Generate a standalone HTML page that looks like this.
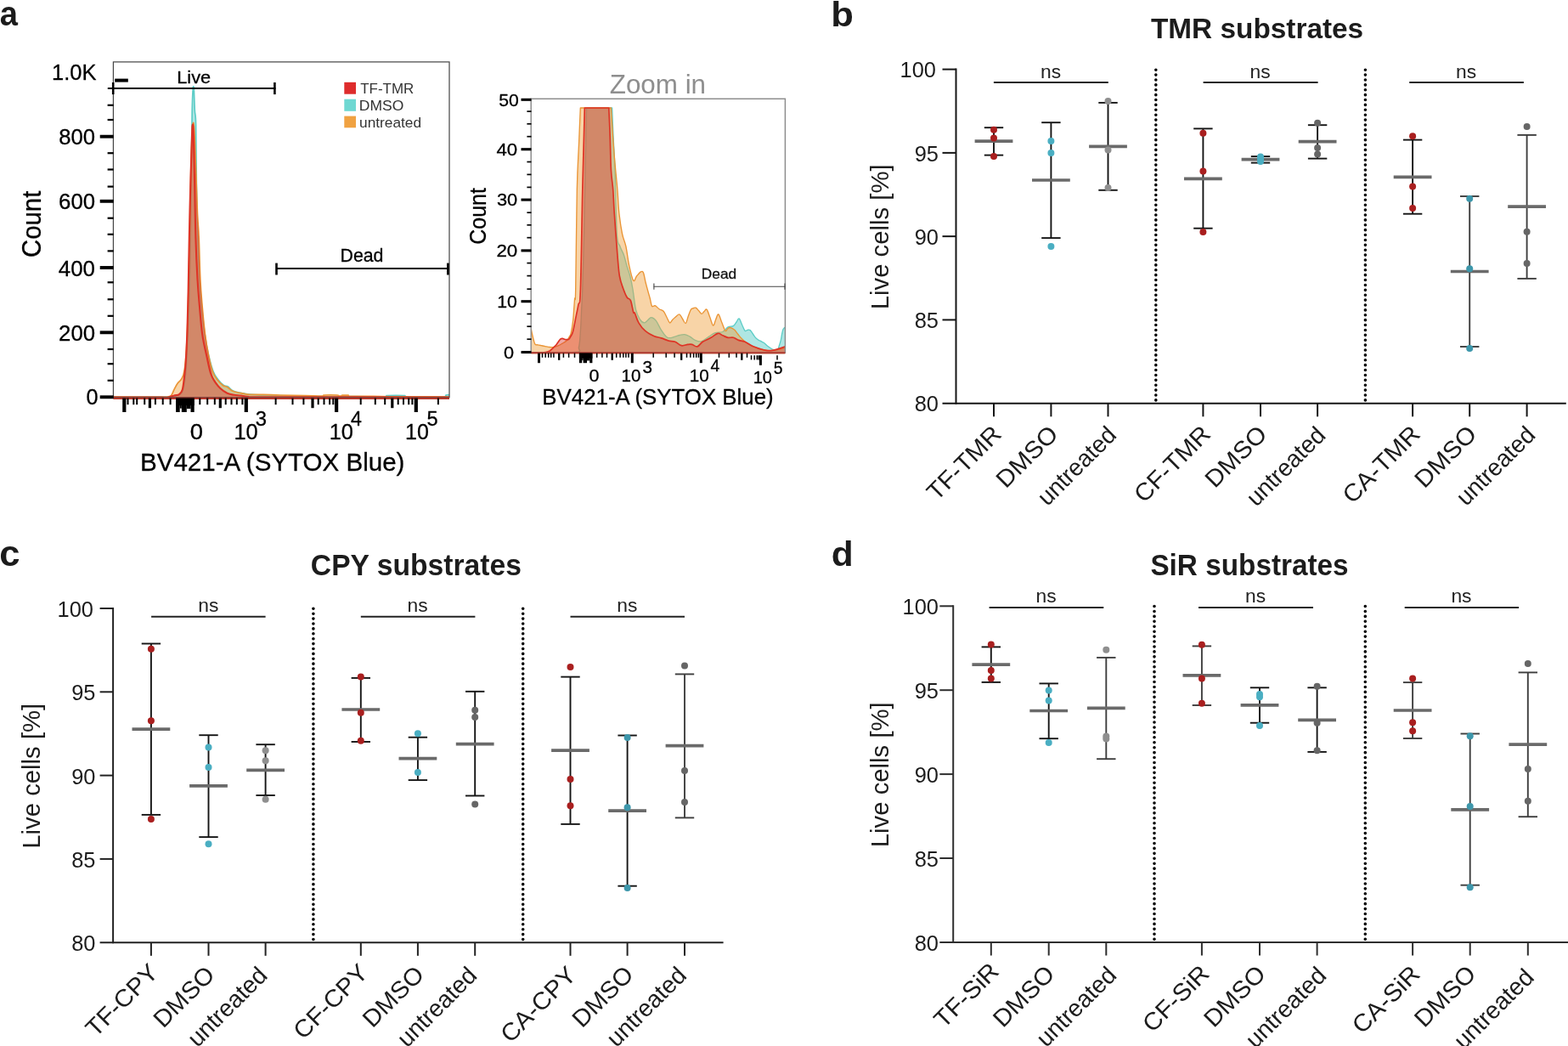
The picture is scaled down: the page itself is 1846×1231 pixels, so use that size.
<!DOCTYPE html>
<html lang="en"><head><meta charset="utf-8"><title>Live cell viability figure</title>
<style>
html,body{margin:0;padding:0;background:#fff;}
body{width:1846px;height:1231px;overflow:hidden;}
svg{display:block;font-family:"Liberation Sans",sans-serif;}
</style></head><body>
<svg width="1846" height="1231" viewBox="0 0 1846 1231" role="img" aria-label="Live cell viability: flow cytometry histograms and live cell percentages for TMR, CPY and SiR substrates">
<rect x="0" y="0" width="1846" height="1231" fill="#ffffff"/>
<text transform="translate(-0.24 30.29) scale(0.920 1)" font-size="41.45" font-weight="bold" fill="#1c1c1c">a</text>
<text transform="translate(978.17 30.5) scale(1.089 1)" font-size="40" font-weight="bold" fill="#1c1c1c">b</text>
<text transform="translate(-0.85 666.18) scale(1.036 1)" font-size="42.18" font-weight="bold" fill="#1c1c1c">c</text>
<text transform="translate(978.8 666.19) scale(1.031 1)" font-size="41.09" font-weight="bold" fill="#1c1c1c">d</text>
<path d="M133.3,467 C133.3,467 186.91,467.27 200,467 C213.09,466.73 203.48,466.4 206,465.5 C208.52,464.6 211.75,466.59 214,462 C216.25,457.41 217.24,452.42 218.5,440 C219.76,427.58 220.23,410.1 221,393 C221.77,375.9 222.21,365.34 222.8,345 C223.39,324.66 223.87,306.1 224.3,280 C224.73,253.9 224.86,227 225.2,200 C225.54,173 225.84,147.19 226.2,130 C226.56,112.81 226.93,109.32 227.2,104.5 C227.47,99.68 227.5,103.2 227.7,103.2 C227.9,103.2 228.01,99.68 228.3,104.5 C228.59,109.32 228.89,122.42 229.3,130 C229.71,137.58 230.22,130.4 230.6,146.6 C230.98,162.8 230.97,195.99 231.4,220 C231.83,244.01 232.35,260.43 233,280 C233.65,299.57 234.17,314.08 235,328.7 C235.83,343.32 236.48,349.5 237.6,361.2 C238.72,372.9 239.76,383.48 241.2,393.7 C242.64,403.92 243.84,410.21 245.6,418 C247.36,425.79 248.95,431.78 251,437 C253.05,442.22 254.77,444.05 257,447 C259.23,449.95 261.35,451.96 263.4,453.4 C265.45,454.84 266.42,453.81 268.4,455 C270.38,456.19 271.52,458.65 274.4,460 C277.28,461.35 280.98,461.76 284.4,462.5 C287.82,463.24 288.79,463.61 293.4,464.1 C298.01,464.59 301.61,464.86 310,465.2 C318.39,465.54 327.4,465.77 340,466 C352.6,466.23 365.6,466.37 380,466.5 C394.4,466.63 406.68,466.65 420,466.7 C433.32,466.75 447.52,467 454,466.8 C460.48,466.6 452.04,465.82 456,465.6 C459.96,465.38 472.04,465.38 476,465.6 C479.96,465.82 470.08,466.55 478,466.8 C485.92,467.05 511.54,467.32 520,467 C528.46,466.68 523.38,465.45 525,465 C526.62,464.55 529,464.5 529,464.5 L529,468.6 L133.3,468.6 Z" fill="rgba(95,205,200,0.50)" stroke="none"/>
<path d="M133.3,467 C133.3,467 186.91,467.27 200,467 C213.09,466.73 203.48,466.4 206,465.5 C208.52,464.6 211.75,466.59 214,462 C216.25,457.41 217.24,452.42 218.5,440 C219.76,427.58 220.23,410.1 221,393 C221.77,375.9 222.21,365.34 222.8,345 C223.39,324.66 223.87,306.1 224.3,280 C224.73,253.9 224.86,227 225.2,200 C225.54,173 225.84,147.19 226.2,130 C226.56,112.81 226.93,109.32 227.2,104.5 C227.47,99.68 227.5,103.2 227.7,103.2 C227.9,103.2 228.01,99.68 228.3,104.5 C228.59,109.32 228.89,122.42 229.3,130 C229.71,137.58 230.22,130.4 230.6,146.6 C230.98,162.8 230.97,195.99 231.4,220 C231.83,244.01 232.35,260.43 233,280 C233.65,299.57 234.17,314.08 235,328.7 C235.83,343.32 236.48,349.5 237.6,361.2 C238.72,372.9 239.76,383.48 241.2,393.7 C242.64,403.92 243.84,410.21 245.6,418 C247.36,425.79 248.95,431.78 251,437 C253.05,442.22 254.77,444.05 257,447 C259.23,449.95 261.35,451.96 263.4,453.4 C265.45,454.84 266.42,453.81 268.4,455 C270.38,456.19 271.52,458.65 274.4,460 C277.28,461.35 280.98,461.76 284.4,462.5 C287.82,463.24 288.79,463.61 293.4,464.1 C298.01,464.59 301.61,464.86 310,465.2 C318.39,465.54 327.4,465.77 340,466 C352.6,466.23 365.6,466.37 380,466.5 C394.4,466.63 406.68,466.65 420,466.7 C433.32,466.75 447.52,467 454,466.8 C460.48,466.6 452.04,465.82 456,465.6 C459.96,465.38 472.04,465.38 476,465.6 C479.96,465.82 470.08,466.55 478,466.8 C485.92,467.05 511.54,467.32 520,467 C528.46,466.68 523.38,465.45 525,465 C526.62,464.55 529,464.5 529,464.5" fill="none" stroke="#5ecdc7" stroke-width="1.7" stroke-linejoin="round"/>
<path d="M133.3,467 C133.3,467 183.35,467.44 195,467.4 C206.65,467.36 196.79,467.2 198,466.8 C199.21,466.4 200.46,466.66 201.7,465.2 C202.94,463.74 203.59,461.2 204.9,458.7 C206.21,456.2 207.38,453.64 209,451.3 C210.62,448.96 212.44,448.47 213.9,445.7 C215.36,442.93 216.09,442.33 217.1,435.9 C218.11,429.47 218.71,423.66 219.5,410 C220.29,396.34 220.82,383.4 221.5,360 C222.18,336.6 222.71,308.8 223.3,280 C223.89,251.2 224.22,223.04 224.8,200 C225.38,176.96 225.83,161 226.5,152 C227.17,143 227.76,141.36 228.5,150 C229.24,158.64 229.9,182 230.6,200 C231.3,218 231.75,235.6 232.4,250 C233.05,264.4 233.59,265.83 234.2,280 C234.81,294.17 235.08,314.08 235.8,328.7 C236.52,343.32 237.17,349.5 238.2,361.2 C239.23,372.9 240.19,383.48 241.5,393.7 C242.81,403.92 243.9,410.12 245.5,418 C247.1,425.88 248.49,432.23 250.4,437.5 C252.31,442.77 253.9,444.37 256.1,447.3 C258.3,450.23 260.55,452.34 262.6,453.8 C264.65,455.26 265.45,454.23 267.5,455.4 C269.55,456.57 271.08,458.99 274,460.3 C276.92,461.61 280.21,461.98 283.7,462.7 C287.19,463.42 288.67,464.01 293.4,464.3 C298.13,464.59 303.41,464.17 310,464.3 C316.59,464.43 321,464.77 330,465 C339,465.23 351,465.42 360,465.6 C369,465.78 376.13,466.11 380,466 C383.87,465.89 378.44,465.18 381.5,465 C384.56,464.82 393.94,464.82 397,465 C400.06,465.18 397.6,465.82 398.5,466 C399.4,466.18 401.19,466.14 402,466 C402.81,465.86 401.56,465.34 403,465.2 C404.44,465.06 408.56,465.06 410,465.2 C411.44,465.34 405.6,465.78 411,466 C416.4,466.22 429.38,466.26 440,466.4 C450.62,466.54 453.98,466.69 470,466.8 C486.02,466.91 529,467 529,467 L529,468.6 L133.3,468.6 Z" fill="rgba(240,160,60,0.45)" stroke="none"/>
<path d="M133.3,467 C133.3,467 183.35,467.44 195,467.4 C206.65,467.36 196.79,467.2 198,466.8 C199.21,466.4 200.46,466.66 201.7,465.2 C202.94,463.74 203.59,461.2 204.9,458.7 C206.21,456.2 207.38,453.64 209,451.3 C210.62,448.96 212.44,448.47 213.9,445.7 C215.36,442.93 216.09,442.33 217.1,435.9 C218.11,429.47 218.71,423.66 219.5,410 C220.29,396.34 220.82,383.4 221.5,360 C222.18,336.6 222.71,308.8 223.3,280 C223.89,251.2 224.22,223.04 224.8,200 C225.38,176.96 225.83,161 226.5,152 C227.17,143 227.76,141.36 228.5,150 C229.24,158.64 229.9,182 230.6,200 C231.3,218 231.75,235.6 232.4,250 C233.05,264.4 233.59,265.83 234.2,280 C234.81,294.17 235.08,314.08 235.8,328.7 C236.52,343.32 237.17,349.5 238.2,361.2 C239.23,372.9 240.19,383.48 241.5,393.7 C242.81,403.92 243.9,410.12 245.5,418 C247.1,425.88 248.49,432.23 250.4,437.5 C252.31,442.77 253.9,444.37 256.1,447.3 C258.3,450.23 260.55,452.34 262.6,453.8 C264.65,455.26 265.45,454.23 267.5,455.4 C269.55,456.57 271.08,458.99 274,460.3 C276.92,461.61 280.21,461.98 283.7,462.7 C287.19,463.42 288.67,464.01 293.4,464.3 C298.13,464.59 303.41,464.17 310,464.3 C316.59,464.43 321,464.77 330,465 C339,465.23 351,465.42 360,465.6 C369,465.78 376.13,466.11 380,466 C383.87,465.89 378.44,465.18 381.5,465 C384.56,464.82 393.94,464.82 397,465 C400.06,465.18 397.6,465.82 398.5,466 C399.4,466.18 401.19,466.14 402,466 C402.81,465.86 401.56,465.34 403,465.2 C404.44,465.06 408.56,465.06 410,465.2 C411.44,465.34 405.6,465.78 411,466 C416.4,466.22 429.38,466.26 440,466.4 C450.62,466.54 453.98,466.69 470,466.8 C486.02,466.91 529,467 529,467" fill="none" stroke="#ea9536" stroke-width="1.7" stroke-linejoin="round"/>
<path d="M133.3,467.6 C133.3,467.6 179,467.53 190,467.6 C201,467.67 192.74,468.07 194.4,468 C196.06,467.93 197.17,467.7 199.2,467.2 C201.23,466.7 203.65,465.72 205.7,465.2 C207.75,464.68 208.98,465.47 210.6,464.3 C212.22,463.13 213.53,462.64 214.7,458.7 C215.87,454.76 216.38,448.25 217.1,442.4 C217.82,436.55 218.12,434.97 218.7,426.2 C219.28,417.43 219.78,408.32 220.3,393.7 C220.82,379.08 221.15,365.47 221.6,345 C222.05,324.53 222.33,302.5 222.8,280 C223.27,257.5 223.62,241.6 224.2,220 C224.78,198.4 225.53,173.21 226,160 C226.47,146.79 226.35,148.4 226.8,146.6 C227.25,144.8 227.82,140.39 228.5,150 C229.18,159.61 229.9,182 230.6,200 C231.3,218 231.75,235.6 232.4,250 C233.05,264.4 233.59,265.83 234.2,280 C234.81,294.17 235.08,314.08 235.8,328.7 C236.52,343.32 237.17,349.5 238.2,361.2 C239.23,372.9 240.19,383.48 241.5,393.7 C242.81,403.92 244.04,409.94 245.5,418 C246.96,426.06 248.29,432.94 249.6,438.5 C250.91,444.06 251.05,445.57 252.8,448.9 C254.55,452.23 256.65,454.52 259.3,457 C261.95,459.48 264.57,461.3 267.5,462.7 C270.43,464.1 272.68,464.3 275.6,464.8 C278.52,465.3 280.78,465.14 283.7,465.5 C286.62,465.86 287.07,466.49 291.8,466.8 C296.53,467.11 267.3,467.06 310,467.2 C352.7,467.34 529,467.6 529,467.6 L529,468.6 L133.3,468.6 Z" fill="rgba(220,50,40,0.42)" stroke="none"/>
<path d="M133.3,467.6 C133.3,467.6 179,467.53 190,467.6 C201,467.67 192.74,468.07 194.4,468 C196.06,467.93 197.17,467.7 199.2,467.2 C201.23,466.7 203.65,465.72 205.7,465.2 C207.75,464.68 208.98,465.47 210.6,464.3 C212.22,463.13 213.53,462.64 214.7,458.7 C215.87,454.76 216.38,448.25 217.1,442.4 C217.82,436.55 218.12,434.97 218.7,426.2 C219.28,417.43 219.78,408.32 220.3,393.7 C220.82,379.08 221.15,365.47 221.6,345 C222.05,324.53 222.33,302.5 222.8,280 C223.27,257.5 223.62,241.6 224.2,220 C224.78,198.4 225.53,173.21 226,160 C226.47,146.79 226.48,146.6 226.8,146.6 C227.12,146.6 227.37,146.79 227.8,160 C228.23,173.21 228.73,198.4 229.2,220 C229.67,241.6 229.81,260.43 230.4,280 C230.99,299.57 231.67,314.08 232.5,328.7 C233.33,343.32 233.97,349.5 235,361.2 C236.03,372.9 236.74,383.48 238.2,393.7 C239.66,403.92 241.34,409.81 243.1,418 C244.86,426.19 246.25,433.64 248,439.2 C249.75,444.76 250.77,445.7 252.8,448.9 C254.83,452.1 256.65,454.52 259.3,457 C261.95,459.48 264.57,461.3 267.5,462.7 C270.43,464.1 272.68,464.3 275.6,464.8 C278.52,465.3 280.78,465.14 283.7,465.5 C286.62,465.86 287.07,466.49 291.8,466.8 C296.53,467.11 267.3,467.06 310,467.2 C352.7,467.34 529,467.6 529,467.6" fill="none" stroke="#de3325" stroke-width="2.12" stroke-linejoin="round"/>
<rect x="133.4" y="72.9" width="395.6" height="394.7" fill="none" stroke="#444" stroke-width="1.2"/>
<line x1="133.4" y1="468.7" x2="529" y2="468.7" stroke="#b5382c" stroke-width="2.4"/>
<line x1="117.7" y1="467.3" x2="133.7" y2="467.3" stroke="#000" stroke-width="3.9"/>
<line x1="126.6" y1="447.8" x2="133.7" y2="447.8" stroke="#000" stroke-width="2.2"/>
<line x1="126.6" y1="428.2" x2="133.7" y2="428.2" stroke="#000" stroke-width="2.2"/>
<line x1="126.6" y1="411" x2="133.7" y2="411" stroke="#000" stroke-width="2.2"/>
<line x1="117.7" y1="391.3" x2="133.7" y2="391.3" stroke="#000" stroke-width="3.9"/>
<line x1="126.6" y1="371.8" x2="133.7" y2="371.8" stroke="#000" stroke-width="2.2"/>
<line x1="126.6" y1="352.3" x2="133.7" y2="352.3" stroke="#000" stroke-width="2.2"/>
<line x1="126.6" y1="332.3" x2="133.7" y2="332.3" stroke="#000" stroke-width="2.2"/>
<line x1="117.7" y1="315" x2="133.7" y2="315" stroke="#000" stroke-width="3.9"/>
<line x1="126.6" y1="295.4" x2="133.7" y2="295.4" stroke="#000" stroke-width="2.2"/>
<line x1="126.6" y1="275.8" x2="133.7" y2="275.8" stroke="#000" stroke-width="2.2"/>
<line x1="126.6" y1="256.7" x2="133.7" y2="256.7" stroke="#000" stroke-width="2.2"/>
<line x1="117.7" y1="236.8" x2="133.7" y2="236.8" stroke="#000" stroke-width="3.9"/>
<line x1="126.6" y1="219.6" x2="133.7" y2="219.6" stroke="#000" stroke-width="2.2"/>
<line x1="126.6" y1="199.5" x2="133.7" y2="199.5" stroke="#000" stroke-width="2.2"/>
<line x1="126.6" y1="180.2" x2="133.7" y2="180.2" stroke="#000" stroke-width="2.2"/>
<line x1="117.7" y1="160.7" x2="133.7" y2="160.7" stroke="#000" stroke-width="3.9"/>
<line x1="126.6" y1="141" x2="133.7" y2="141" stroke="#000" stroke-width="2.2"/>
<line x1="126.6" y1="123.8" x2="133.7" y2="123.8" stroke="#000" stroke-width="2.2"/>
<text transform="translate(60.99 94.02) scale(0.969 1)" font-size="26.3" fill="#000" stroke="#000" stroke-width="0.3" stroke-linejoin="round">1.0K</text>
<text transform="translate(69.25 170.02) scale(0.975 1)" font-size="26.3" fill="#000" stroke="#000" stroke-width="0.3" stroke-linejoin="round">800</text>
<text transform="translate(69.11 246.22) scale(0.978 1)" font-size="26.3" fill="#000" stroke="#000" stroke-width="0.3" stroke-linejoin="round">600</text>
<text transform="translate(68.85 325.12) scale(0.984 1)" font-size="26.3" fill="#000" stroke="#000" stroke-width="0.3" stroke-linejoin="round">400</text>
<text transform="translate(69.11 401.22) scale(0.978 1)" font-size="26.3" fill="#000" stroke="#000" stroke-width="0.3" stroke-linejoin="round">200</text>
<text transform="translate(101.39 475.97) scale(0.961 1)" font-size="26.3" fill="#000" stroke="#000" stroke-width="0.3" stroke-linejoin="round">0</text>
<text transform="translate(47.68 302.97) rotate(-90) scale(0.926 1)" font-size="31.69" fill="#000" stroke="#000" stroke-width="0.3" stroke-linejoin="round">Count</text>
<rect x="135.2" y="92.6" width="15.6" height="4" fill="#000"/>
<line x1="126.8" y1="104" x2="324.4" y2="104" stroke="#000" stroke-width="2.2"/>
<line x1="133.2" y1="97" x2="133.2" y2="111.1" stroke="#000" stroke-width="2.6"/>
<line x1="323.4" y1="97" x2="323.4" y2="111.1" stroke="#000" stroke-width="2.6"/>
<text transform="translate(208.15 98.49) scale(1.055 1)" font-size="20.68" fill="#000" stroke="#000" stroke-width="0.3" stroke-linejoin="round">Live</text>
<line x1="325" y1="316" x2="528" y2="316" stroke="#000" stroke-width="2.2"/>
<line x1="325.5" y1="309.6" x2="325.5" y2="323.5" stroke="#000" stroke-width="2.6"/>
<line x1="527.4" y1="309.6" x2="527.4" y2="323.5" stroke="#000" stroke-width="2.8"/>
<text transform="translate(400.49 308.39) scale(1.005 1)" font-size="21.22" fill="#000" stroke="#000" stroke-width="0.3" stroke-linejoin="round">Dead</text>
<rect x="405.3" y="96.8" width="13.7" height="13.9" fill="#de2c2c"/>
<rect x="405.3" y="116.7" width="13.7" height="14.1" fill="#6fd8d2"/>
<rect x="405.3" y="136.6" width="13.7" height="13.7" fill="#f0a242"/>
<text transform="translate(424.26 109.7) scale(0.973 1)" font-size="17.4" fill="#333">TF-TMR</text>
<text transform="translate(422.8 129.55) scale(1.005 1)" font-size="17.4" fill="#333">DMSO</text>
<text transform="translate(423.08 149.67) scale(0.994 1)" font-size="17.4" fill="#333">untreated</text>
<line x1="150.5" y1="468.6" x2="150.5" y2="476.2" stroke="#000" stroke-width="2"/>
<line x1="157.3" y1="468.6" x2="157.3" y2="476.2" stroke="#000" stroke-width="2"/>
<line x1="161.2" y1="468.6" x2="161.2" y2="476.2" stroke="#000" stroke-width="2"/>
<line x1="170.2" y1="468.6" x2="170.2" y2="476.2" stroke="#000" stroke-width="2"/>
<line x1="182.9" y1="468.6" x2="182.9" y2="476.2" stroke="#000" stroke-width="2"/>
<line x1="191.7" y1="468.6" x2="191.7" y2="476.2" stroke="#000" stroke-width="2"/>
<line x1="200.6" y1="468.6" x2="200.6" y2="476.2" stroke="#000" stroke-width="2"/>
<line x1="235.3" y1="468.6" x2="235.3" y2="476.2" stroke="#000" stroke-width="2"/>
<line x1="244.2" y1="468.6" x2="244.2" y2="476.2" stroke="#000" stroke-width="2"/>
<line x1="252.8" y1="468.6" x2="252.8" y2="476.2" stroke="#000" stroke-width="2"/>
<line x1="265.7" y1="468.6" x2="265.7" y2="476.2" stroke="#000" stroke-width="2"/>
<line x1="272.5" y1="468.6" x2="272.5" y2="476.2" stroke="#000" stroke-width="2"/>
<line x1="278.8" y1="468.6" x2="278.8" y2="476.2" stroke="#000" stroke-width="2"/>
<line x1="285.4" y1="468.6" x2="285.4" y2="476.2" stroke="#000" stroke-width="2"/>
<line x1="324.6" y1="468.6" x2="324.6" y2="476.2" stroke="#000" stroke-width="2"/>
<line x1="344.5" y1="468.6" x2="344.5" y2="476.2" stroke="#000" stroke-width="2"/>
<line x1="357.4" y1="468.6" x2="357.4" y2="476.2" stroke="#000" stroke-width="2"/>
<line x1="374.7" y1="468.6" x2="374.7" y2="476.2" stroke="#000" stroke-width="2"/>
<line x1="381.5" y1="468.6" x2="381.5" y2="476.2" stroke="#000" stroke-width="2"/>
<line x1="388.1" y1="468.6" x2="388.1" y2="476.2" stroke="#000" stroke-width="2"/>
<line x1="392.3" y1="468.6" x2="392.3" y2="476.2" stroke="#000" stroke-width="2"/>
<line x1="424.7" y1="468.6" x2="424.7" y2="476.2" stroke="#000" stroke-width="2"/>
<line x1="441.8" y1="468.6" x2="441.8" y2="476.2" stroke="#000" stroke-width="2"/>
<line x1="453.2" y1="468.6" x2="453.2" y2="476.2" stroke="#000" stroke-width="2"/>
<line x1="468.7" y1="468.6" x2="468.7" y2="476.2" stroke="#000" stroke-width="2"/>
<line x1="475" y1="468.6" x2="475" y2="476.2" stroke="#000" stroke-width="2"/>
<line x1="481.2" y1="468.6" x2="481.2" y2="476.2" stroke="#000" stroke-width="2"/>
<line x1="485.4" y1="468.6" x2="485.4" y2="476.2" stroke="#000" stroke-width="2"/>
<line x1="515.9" y1="468.6" x2="515.9" y2="476.2" stroke="#000" stroke-width="2"/>
<line x1="176.4" y1="468.6" x2="176.4" y2="480.2" stroke="#000" stroke-width="3.2"/>
<line x1="259.3" y1="468.6" x2="259.3" y2="480.2" stroke="#000" stroke-width="3.2"/>
<line x1="368" y1="468.6" x2="368" y2="480.2" stroke="#000" stroke-width="3.2"/>
<line x1="461.8" y1="468.6" x2="461.8" y2="480.2" stroke="#000" stroke-width="3.2"/>
<line x1="146.3" y1="468.6" x2="146.3" y2="485" stroke="#000" stroke-width="4.2"/>
<line x1="289.8" y1="468.6" x2="289.8" y2="485" stroke="#000" stroke-width="4.2"/>
<line x1="396.1" y1="468.6" x2="396.1" y2="485" stroke="#000" stroke-width="4.2"/>
<line x1="489.8" y1="468.6" x2="489.8" y2="485" stroke="#000" stroke-width="4.2"/>
<rect x="207.1" y="468.6" width="21.6" height="8.6" fill="#000"/>
<rect x="207.1" y="468.6" width="4.6" height="16.4" fill="#000"/>
<rect x="213.8" y="468.6" width="6" height="16.4" fill="#000"/>
<rect x="224.5" y="468.6" width="4.2" height="16.4" fill="#000"/>
<rect x="211.7" y="468.6" width="2.1" height="12" fill="#000"/>
<rect x="219.8" y="468.6" width="4.7" height="12.4" fill="#000"/>
<text transform="translate(223.71 517.14) scale(1.045 1)" font-size="26.2" fill="#000" stroke="#000" stroke-width="0.3" stroke-linejoin="round">0</text>
<text transform="translate(275.39 517.14) scale(0.971 1)" font-size="26.2" fill="#000" stroke="#000" stroke-width="0.3" stroke-linejoin="round">10</text>
<text transform="translate(300.85 501.12) scale(1.018 1)" font-size="23.4" fill="#000" stroke="#000" stroke-width="0.3" stroke-linejoin="round">3</text>
<text transform="translate(387.7 517.14) scale(0.967 1)" font-size="26.2" fill="#000" stroke="#000" stroke-width="0.3" stroke-linejoin="round">10</text>
<text transform="translate(412.92 501.12) scale(0.991 1)" font-size="23.4" fill="#000" stroke="#000" stroke-width="0.3" stroke-linejoin="round">4</text>
<text transform="translate(477.12 517.14) scale(0.955 1)" font-size="26.2" fill="#000" stroke="#000" stroke-width="0.3" stroke-linejoin="round">10</text>
<text transform="translate(502.56 501.01) scale(1.008 1)" font-size="23.4" fill="#000" stroke="#000" stroke-width="0.3" stroke-linejoin="round">5</text>
<text transform="translate(165.04 554.03) scale(0.990 1)" font-size="29.84" fill="#000" stroke="#000" stroke-width="0.3" stroke-linejoin="round">BV421-A (SYTOX Blue)</text>
<clipPath id="clipR"><rect x="625.2" y="116.3" width="299.2" height="300.7"/></clipPath>
<g clip-path="url(#clipR)">
<path d="M625.2,415 C625.2,415 666.97,415.67 677.1,414.5 C687.23,413.33 680.37,412.95 681.5,408.5 C682.63,404.05 682.84,397.65 683.4,389.8 C683.96,381.95 684.17,373.86 684.6,364.9 C685.03,355.94 685.28,355.28 685.8,340 C686.32,324.72 686.92,305.2 687.5,280 C688.08,254.8 688.46,227.54 689,200 C689.54,172.46 690.5,127 690.5,127 C690.5,127 720.6,127 720.6,127 C720.6,127 721.39,146.86 722,160 C722.61,173.14 723.23,179.3 724,200 C724.77,220.7 725.22,258.8 726.3,275 C727.38,291.2 728.54,285.5 730,290 C731.46,294.5 732.96,295.86 734.4,300 C735.84,304.14 736.67,308.5 738,313 C739.33,317.5 740.56,320.14 741.8,325 C743.04,329.86 743.66,332.82 744.9,340 C746.14,347.18 747.13,358.4 748.7,364.9 C750.27,371.4 751.82,373.4 753.6,376.1 C755.38,378.8 757,379.74 758.6,379.9 C760.2,380.06 761.04,378.13 762.5,377 C763.96,375.87 764.94,373.53 766.7,373.6 C768.46,373.67 770.16,374.7 772.3,377.4 C774.44,380.1 776.13,385.02 778.6,388.6 C781.07,392.18 783.08,395.95 786,397.3 C788.92,398.65 792.28,396.6 794.8,396.1 C797.32,395.6 797.98,394.95 800,394.5 C802.02,394.05 803.8,393.31 806,393.6 C808.2,393.89 809.97,394.88 812.2,396.1 C814.43,397.32 815.93,399.39 818.4,400.4 C820.87,401.41 822.98,402.47 825.9,401.7 C828.82,400.93 831.68,397.9 834.6,396.1 C837.52,394.3 839.18,392.71 842.1,391.7 C845.02,390.69 848.1,391.72 850.8,390.5 C853.5,389.28 854.85,386.14 857.1,384.9 C859.35,383.66 861.52,384.66 863.3,383.6 C865.08,382.54 865.78,380.57 867,379 C868.22,377.43 868.93,374.36 870.1,374.9 C871.27,375.44 872.26,379.43 873.5,382 C874.74,384.57 875.83,388.05 877,389.2 C878.17,390.35 878.88,388.51 880,388.4 C881.12,388.29 881.94,387.59 883.2,388.6 C884.46,389.61 885.65,392.2 887,394 C888.35,395.8 889.26,397.3 890.7,398.6 C892.14,399.9 893.43,400.32 895,401.2 C896.57,402.08 897.78,402.37 899.4,403.5 C901.02,404.63 902.2,406.15 904,407.5 C905.8,408.85 907.87,410.23 909.4,411 C910.93,411.77 911.38,411.69 912.5,411.8 C913.62,411.91 914.68,412.64 915.6,411.6 C916.52,410.56 916.92,408.12 917.6,406 C918.28,403.88 918.86,402.14 919.4,399.8 C919.94,397.46 920.17,395.12 920.6,393 C921.03,390.88 921.37,389.22 921.8,388 C922.23,386.78 922.53,386.65 923,386.2 C923.47,385.75 924.4,385.5 924.4,385.5 L924.4,416.2 L625.2,416.2 Z" fill="rgba(95,205,200,0.50)" stroke="none"/>
<path d="M625.2,415 C625.2,415 666.97,415.67 677.1,414.5 C687.23,413.33 680.37,412.95 681.5,408.5 C682.63,404.05 682.84,397.65 683.4,389.8 C683.96,381.95 684.17,373.86 684.6,364.9 C685.03,355.94 685.28,355.28 685.8,340 C686.32,324.72 686.92,305.2 687.5,280 C688.08,254.8 688.46,227.54 689,200 C689.54,172.46 690.5,127 690.5,127 C690.5,127 720.6,127 720.6,127 C720.6,127 721.39,146.86 722,160 C722.61,173.14 723.23,179.3 724,200 C724.77,220.7 725.22,258.8 726.3,275 C727.38,291.2 728.54,285.5 730,290 C731.46,294.5 732.96,295.86 734.4,300 C735.84,304.14 736.67,308.5 738,313 C739.33,317.5 740.56,320.14 741.8,325 C743.04,329.86 743.66,332.82 744.9,340 C746.14,347.18 747.13,358.4 748.7,364.9 C750.27,371.4 751.82,373.4 753.6,376.1 C755.38,378.8 757,379.74 758.6,379.9 C760.2,380.06 761.04,378.13 762.5,377 C763.96,375.87 764.94,373.53 766.7,373.6 C768.46,373.67 770.16,374.7 772.3,377.4 C774.44,380.1 776.13,385.02 778.6,388.6 C781.07,392.18 783.08,395.95 786,397.3 C788.92,398.65 792.28,396.6 794.8,396.1 C797.32,395.6 797.98,394.95 800,394.5 C802.02,394.05 803.8,393.31 806,393.6 C808.2,393.89 809.97,394.88 812.2,396.1 C814.43,397.32 815.93,399.39 818.4,400.4 C820.87,401.41 822.98,402.47 825.9,401.7 C828.82,400.93 831.68,397.9 834.6,396.1 C837.52,394.3 839.18,392.71 842.1,391.7 C845.02,390.69 848.1,391.72 850.8,390.5 C853.5,389.28 854.85,386.14 857.1,384.9 C859.35,383.66 861.52,384.66 863.3,383.6 C865.08,382.54 865.78,380.57 867,379 C868.22,377.43 868.93,374.36 870.1,374.9 C871.27,375.44 872.26,379.43 873.5,382 C874.74,384.57 875.83,388.05 877,389.2 C878.17,390.35 878.88,388.51 880,388.4 C881.12,388.29 881.94,387.59 883.2,388.6 C884.46,389.61 885.65,392.2 887,394 C888.35,395.8 889.26,397.3 890.7,398.6 C892.14,399.9 893.43,400.32 895,401.2 C896.57,402.08 897.78,402.37 899.4,403.5 C901.02,404.63 902.2,406.15 904,407.5 C905.8,408.85 907.87,410.23 909.4,411 C910.93,411.77 911.38,411.69 912.5,411.8 C913.62,411.91 914.68,412.64 915.6,411.6 C916.52,410.56 916.92,408.12 917.6,406 C918.28,403.88 918.86,402.14 919.4,399.8 C919.94,397.46 920.17,395.12 920.6,393 C921.03,390.88 921.37,389.22 921.8,388 C922.23,386.78 922.53,386.65 923,386.2 C923.47,385.75 924.4,385.5 924.4,385.5" fill="none" stroke="#5ecdc7" stroke-width="1.35" stroke-linejoin="round"/>
<path d="M625.2,386.7 C625.2,386.7 626.37,392.74 627.2,396 C628.03,399.26 628.76,403.04 629.8,404.8 C630.84,406.56 631.65,405.46 633,405.8 C634.35,406.14 635.68,406.38 637.3,406.7 C638.92,407.02 640.22,407.28 642,407.6 C643.78,407.92 645.4,408.37 647.2,408.5 C649,408.63 650.24,408.61 652,408.3 C653.76,407.99 655.2,407.54 657,406.8 C658.8,406.06 660.18,405.24 662,404.2 C663.82,403.16 665.7,402.3 667.1,401 C668.5,399.7 668.9,398.57 669.8,397 C670.7,395.43 671.24,395.83 672.1,392.3 C672.96,388.77 673.81,384.56 674.6,377.4 C675.39,370.24 675.94,359.23 676.5,352.5 C677.06,345.77 677.2,363.31 677.7,340 C678.2,316.69 678.62,253.6 679.3,223 C679.98,192.4 680.78,187.28 681.5,170 C682.22,152.72 683.3,127 683.3,127 C683.3,127 719.4,127 719.4,127 C719.4,127 720.71,148.66 721.5,160 C722.29,171.34 722.83,178.66 723.8,190 C724.77,201.34 726,212.2 726.9,223 C727.8,233.8 727.79,240.64 728.8,250 C729.81,259.36 731.04,267.8 732.5,275 C733.96,282.2 735.44,283.34 736.9,290 C738.36,296.66 739.03,304.8 740.6,312 C742.17,319.2 744,327.66 745.6,330 C747.2,332.34 747.93,326.82 749.5,325 C751.07,323.18 752.88,320.64 754.3,319.9 C755.72,319.16 756.37,318.72 757.4,320.9 C758.43,323.08 758.99,327.97 760,332 C761.01,336.03 762.06,339.88 763,343.3 C763.94,346.72 764.43,348.01 765.2,351 C765.97,353.99 766.53,358.24 767.3,359.9 C768.07,361.56 768.71,360.2 769.5,360.2 C770.29,360.2 770.51,359.27 771.7,359.9 C772.89,360.53 774.41,362.57 776.1,363.7 C777.79,364.83 779.53,364.53 781.1,366.2 C782.67,367.87 783.47,370.53 784.8,373 C786.13,375.47 787.28,379.27 788.5,379.9 C789.72,380.53 790.47,377.63 791.6,376.5 C792.73,375.37 793.34,374.79 794.8,373.6 C796.26,372.41 798.15,369.65 799.7,369.9 C801.25,370.15 802.05,373.09 803.4,375 C804.75,376.91 805.96,381.04 807.2,380.5 C808.44,379.96 809.18,374.92 810.3,372 C811.42,369.08 812.34,365.96 813.4,364.3 C814.46,362.64 815.17,363.18 816.2,362.8 C817.23,362.42 817.97,361.71 819.1,362.2 C820.23,362.69 821.28,364.22 822.5,365.5 C823.72,366.78 824.73,369.12 825.9,369.3 C827.07,369.48 827.88,367.4 829,366.5 C830.12,365.6 830.88,363.04 832.1,364.3 C833.32,365.56 834.45,370.13 835.8,373.5 C837.15,376.87 838.36,382.55 839.6,383 C840.84,383.45 841.58,378.36 842.7,376 C843.82,373.64 844.52,369.27 845.8,369.9 C847.08,370.53 848.34,376.03 849.8,379.5 C851.26,382.97 852.66,387.89 853.9,389.2 C855.14,390.51 855.69,387.47 856.7,386.8 C857.71,386.13 858.1,385.28 859.5,385.5 C860.9,385.72 862.81,386.56 864.5,388 C866.19,389.44 867.32,391.59 868.9,393.5 C870.48,395.41 871.48,396.8 873.3,398.6 C875.12,400.4 876.53,401.81 879,403.5 C881.47,405.19 884.12,406.65 887,408 C889.88,409.35 891.76,410.17 895,411 C898.24,411.83 901.4,412.49 905,412.6 C908.6,412.71 911.51,412.25 915,411.6 C918.49,410.95 924.4,409 924.4,409 L924.4,416.2 L625.2,416.2 Z" fill="rgba(240,160,60,0.45)" stroke="none"/>
<path d="M625.2,386.7 C625.2,386.7 626.37,392.74 627.2,396 C628.03,399.26 628.76,403.04 629.8,404.8 C630.84,406.56 631.65,405.46 633,405.8 C634.35,406.14 635.68,406.38 637.3,406.7 C638.92,407.02 640.22,407.28 642,407.6 C643.78,407.92 645.4,408.37 647.2,408.5 C649,408.63 650.24,408.61 652,408.3 C653.76,407.99 655.2,407.54 657,406.8 C658.8,406.06 660.18,405.24 662,404.2 C663.82,403.16 665.7,402.3 667.1,401 C668.5,399.7 668.9,398.57 669.8,397 C670.7,395.43 671.24,395.83 672.1,392.3 C672.96,388.77 673.81,384.56 674.6,377.4 C675.39,370.24 675.94,359.23 676.5,352.5 C677.06,345.77 677.2,363.31 677.7,340 C678.2,316.69 678.62,253.6 679.3,223 C679.98,192.4 680.78,187.28 681.5,170 C682.22,152.72 683.3,127 683.3,127 C683.3,127 719.4,127 719.4,127 C719.4,127 720.71,148.66 721.5,160 C722.29,171.34 722.83,178.66 723.8,190 C724.77,201.34 726,212.2 726.9,223 C727.8,233.8 727.79,240.64 728.8,250 C729.81,259.36 731.04,267.8 732.5,275 C733.96,282.2 735.44,283.34 736.9,290 C738.36,296.66 739.03,304.8 740.6,312 C742.17,319.2 744,327.66 745.6,330 C747.2,332.34 747.93,326.82 749.5,325 C751.07,323.18 752.88,320.64 754.3,319.9 C755.72,319.16 756.37,318.72 757.4,320.9 C758.43,323.08 758.99,327.97 760,332 C761.01,336.03 762.06,339.88 763,343.3 C763.94,346.72 764.43,348.01 765.2,351 C765.97,353.99 766.53,358.24 767.3,359.9 C768.07,361.56 768.71,360.2 769.5,360.2 C770.29,360.2 770.51,359.27 771.7,359.9 C772.89,360.53 774.41,362.57 776.1,363.7 C777.79,364.83 779.53,364.53 781.1,366.2 C782.67,367.87 783.47,370.53 784.8,373 C786.13,375.47 787.28,379.27 788.5,379.9 C789.72,380.53 790.47,377.63 791.6,376.5 C792.73,375.37 793.34,374.79 794.8,373.6 C796.26,372.41 798.15,369.65 799.7,369.9 C801.25,370.15 802.05,373.09 803.4,375 C804.75,376.91 805.96,381.04 807.2,380.5 C808.44,379.96 809.18,374.92 810.3,372 C811.42,369.08 812.34,365.96 813.4,364.3 C814.46,362.64 815.17,363.18 816.2,362.8 C817.23,362.42 817.97,361.71 819.1,362.2 C820.23,362.69 821.28,364.22 822.5,365.5 C823.72,366.78 824.73,369.12 825.9,369.3 C827.07,369.48 827.88,367.4 829,366.5 C830.12,365.6 830.88,363.04 832.1,364.3 C833.32,365.56 834.45,370.13 835.8,373.5 C837.15,376.87 838.36,382.55 839.6,383 C840.84,383.45 841.58,378.36 842.7,376 C843.82,373.64 844.52,369.27 845.8,369.9 C847.08,370.53 848.34,376.03 849.8,379.5 C851.26,382.97 852.66,387.89 853.9,389.2 C855.14,390.51 855.69,387.47 856.7,386.8 C857.71,386.13 858.1,385.28 859.5,385.5 C860.9,385.72 862.81,386.56 864.5,388 C866.19,389.44 867.32,391.59 868.9,393.5 C870.48,395.41 871.48,396.8 873.3,398.6 C875.12,400.4 876.53,401.81 879,403.5 C881.47,405.19 884.12,406.65 887,408 C889.88,409.35 891.76,410.17 895,411 C898.24,411.83 901.4,412.49 905,412.6 C908.6,412.71 911.51,412.25 915,411.6 C918.49,410.95 924.4,409 924.4,409" fill="none" stroke="#ea9536" stroke-width="1.35" stroke-linejoin="round"/>
<path d="M625.2,415 C625.2,415 634.94,414.99 638,414.9 C641.06,414.81 640.54,414.86 642.2,414.5 C643.86,414.14 645.62,413.78 647.2,412.9 C648.78,412.02 649.65,410.84 651,409.6 C652.35,408.36 653.58,407.28 654.7,406 C655.82,404.72 656.3,403.72 657.2,402.5 C658.1,401.28 658.8,399.96 659.7,399.2 C660.6,398.44 661.08,398.23 662.2,398.3 C663.32,398.37 664.57,399.44 665.9,399.6 C667.23,399.76 668.48,399.94 669.6,399.2 C670.72,398.46 671.2,397.19 672.1,395.5 C673,393.81 673.47,394.19 674.6,389.8 C675.73,385.41 677.27,376.7 678.4,371.1 C679.53,365.5 680,364.3 680.9,358.7 C681.8,353.1 682.52,364.43 683.4,340 C684.28,315.57 685.12,253.6 685.8,223 C686.48,192.4 686.75,187.28 687.2,170 C687.65,152.72 688.3,127 688.3,127 C688.3,127 716.8,127 716.8,127 C716.8,127 717.73,146.86 718.2,160 C718.67,173.14 718.77,188.66 719.4,200 C720.03,211.34 721.02,214 721.7,223 C722.38,232 722.26,236.14 723.2,250 C724.14,263.86 725.78,286.5 726.9,300 C728.02,313.5 728.16,317.8 729.4,325 C730.64,332.2 732.22,335.5 733.8,340 C735.38,344.5 736.65,347.53 738.2,350 C739.75,352.47 741.05,350.57 742.4,353.7 C743.75,356.83 744.8,364.7 745.7,367.4 C746.6,370.1 746.28,366.45 747.4,368.7 C748.52,370.95 749.74,376.21 751.9,379.9 C754.06,383.59 756.18,386.41 759.4,389.2 C762.62,391.99 766.34,393.83 769.8,395.4 C773.26,396.97 775.45,396.87 778.6,397.9 C781.75,398.93 784.38,400.31 787.3,401.1 C790.22,401.89 792.12,401.29 794.8,402.3 C797.48,403.31 799.52,406.14 802.2,406.7 C804.88,407.26 807.45,405.63 809.7,405.4 C811.95,405.17 812.68,404.95 814.7,405.4 C816.72,405.85 818.65,408.46 820.9,407.9 C823.15,407.34 824.28,404.21 827.2,402.3 C830.12,400.39 833.86,399.1 837.1,397.3 C840.34,395.5 842.73,392.75 845.2,392.3 C847.67,391.85 848.66,393.9 850.8,394.8 C852.94,395.7 854.85,396.85 857.1,397.3 C859.35,397.75 861.07,396.74 863.3,397.3 C865.53,397.86 867.03,399.5 869.5,400.4 C871.97,401.3 874.08,401.06 877,402.3 C879.92,403.54 882.57,405.84 885.7,407.3 C888.83,408.76 891.48,409.5 894.4,410.4 C897.32,411.3 899.2,411.96 901.9,412.3 C904.6,412.64 906.7,412.64 909.4,412.3 C912.1,411.96 914.2,411.19 916.9,410.4 C919.6,409.61 924.4,407.9 924.4,407.9 L924.4,416.2 L625.2,416.2 Z" fill="rgba(220,50,40,0.42)" stroke="none"/>
<path d="M625.2,415 C625.2,415 634.94,414.99 638,414.9 C641.06,414.81 640.54,414.86 642.2,414.5 C643.86,414.14 645.62,413.78 647.2,412.9 C648.78,412.02 649.65,410.84 651,409.6 C652.35,408.36 653.58,407.28 654.7,406 C655.82,404.72 656.3,403.72 657.2,402.5 C658.1,401.28 658.8,399.96 659.7,399.2 C660.6,398.44 661.08,398.23 662.2,398.3 C663.32,398.37 664.57,399.44 665.9,399.6 C667.23,399.76 668.48,399.94 669.6,399.2 C670.72,398.46 671.2,397.19 672.1,395.5 C673,393.81 673.47,394.19 674.6,389.8 C675.73,385.41 677.27,376.7 678.4,371.1 C679.53,365.5 680,364.3 680.9,358.7 C681.8,353.1 682.52,364.43 683.4,340 C684.28,315.57 685.12,253.6 685.8,223 C686.48,192.4 686.75,187.28 687.2,170 C687.65,152.72 688.3,127 688.3,127 C688.3,127 716.8,127 716.8,127 C716.8,127 717.73,146.86 718.2,160 C718.67,173.14 718.77,188.66 719.4,200 C720.03,211.34 721.02,214 721.7,223 C722.38,232 722.26,236.14 723.2,250 C724.14,263.86 725.78,286.5 726.9,300 C728.02,313.5 728.16,317.8 729.4,325 C730.64,332.2 732.22,335.5 733.8,340 C735.38,344.5 736.65,347.53 738.2,350 C739.75,352.47 741.05,350.57 742.4,353.7 C743.75,356.83 744.8,364.7 745.7,367.4 C746.6,370.1 746.28,366.45 747.4,368.7 C748.52,370.95 749.74,376.21 751.9,379.9 C754.06,383.59 756.18,386.41 759.4,389.2 C762.62,391.99 766.34,393.83 769.8,395.4 C773.26,396.97 775.45,396.87 778.6,397.9 C781.75,398.93 784.38,400.31 787.3,401.1 C790.22,401.89 792.12,401.29 794.8,402.3 C797.48,403.31 799.52,406.14 802.2,406.7 C804.88,407.26 807.45,405.63 809.7,405.4 C811.95,405.17 812.68,404.95 814.7,405.4 C816.72,405.85 818.65,408.46 820.9,407.9 C823.15,407.34 824.28,404.21 827.2,402.3 C830.12,400.39 833.86,399.1 837.1,397.3 C840.34,395.5 842.73,392.75 845.2,392.3 C847.67,391.85 848.66,393.9 850.8,394.8 C852.94,395.7 854.85,396.85 857.1,397.3 C859.35,397.75 861.07,396.74 863.3,397.3 C865.53,397.86 867.03,399.5 869.5,400.4 C871.97,401.3 874.08,401.06 877,402.3 C879.92,403.54 882.57,405.84 885.7,407.3 C888.83,408.76 891.48,409.5 894.4,410.4 C897.32,411.3 899.2,411.96 901.9,412.3 C904.6,412.64 906.7,412.64 909.4,412.3 C912.1,411.96 914.2,411.19 916.9,410.4 C919.6,409.61 924.4,407.9 924.4,407.9" fill="none" stroke="#de3325" stroke-width="1.69" stroke-linejoin="round"/>
</g>
<rect x="625.2" y="116.3" width="299.2" height="298.7" fill="none" stroke="#8d8d8d" stroke-width="1.5"/>
<line x1="625.2" y1="415.3" x2="924.4" y2="415.3" stroke="#b5382c" stroke-width="2"/>
<line x1="613.5" y1="414.5" x2="625.5" y2="414.5" stroke="#000" stroke-width="3.1"/>
<line x1="620.4" y1="399.2" x2="625.5" y2="399.2" stroke="#000" stroke-width="1.7"/>
<line x1="620.4" y1="384.2" x2="625.5" y2="384.2" stroke="#000" stroke-width="1.7"/>
<line x1="620.4" y1="369.5" x2="625.5" y2="369.5" stroke="#000" stroke-width="1.7"/>
<line x1="613.5" y1="354.7" x2="625.5" y2="354.7" stroke="#000" stroke-width="3.1"/>
<line x1="620.4" y1="340.2" x2="625.5" y2="340.2" stroke="#000" stroke-width="1.7"/>
<line x1="620.4" y1="324.6" x2="625.5" y2="324.6" stroke="#000" stroke-width="1.7"/>
<line x1="620.4" y1="309.6" x2="625.5" y2="309.6" stroke="#000" stroke-width="1.7"/>
<line x1="613.5" y1="294.9" x2="625.5" y2="294.9" stroke="#000" stroke-width="3.1"/>
<line x1="620.4" y1="279.7" x2="625.5" y2="279.7" stroke="#000" stroke-width="1.7"/>
<line x1="620.4" y1="264.8" x2="625.5" y2="264.8" stroke="#000" stroke-width="1.7"/>
<line x1="620.4" y1="250.2" x2="625.5" y2="250.2" stroke="#000" stroke-width="1.7"/>
<line x1="613.5" y1="235.1" x2="625.5" y2="235.1" stroke="#000" stroke-width="3.1"/>
<line x1="620.4" y1="220.4" x2="625.5" y2="220.4" stroke="#000" stroke-width="1.7"/>
<line x1="620.4" y1="205.4" x2="625.5" y2="205.4" stroke="#000" stroke-width="1.7"/>
<line x1="620.4" y1="190.5" x2="625.5" y2="190.5" stroke="#000" stroke-width="1.7"/>
<line x1="613.5" y1="175.7" x2="625.5" y2="175.7" stroke="#000" stroke-width="3.1"/>
<line x1="620.4" y1="160.7" x2="625.5" y2="160.7" stroke="#000" stroke-width="1.7"/>
<line x1="620.4" y1="145.8" x2="625.5" y2="145.8" stroke="#000" stroke-width="1.7"/>
<line x1="620.4" y1="131.1" x2="625.5" y2="131.1" stroke="#000" stroke-width="1.7"/>
<line x1="613.5" y1="117.3" x2="625.5" y2="117.3" stroke="#000" stroke-width="3.1"/>
<text transform="translate(587.15 125.04) scale(1.038 1)" font-size="20.4" fill="#000" stroke="#000" stroke-width="0.3" stroke-linejoin="round">50</text>
<text transform="translate(584.54 183.29) scale(1.088 1)" font-size="20.4" fill="#000" stroke="#000" stroke-width="0.3" stroke-linejoin="round">40</text>
<text transform="translate(584.93 242.09) scale(1.071 1)" font-size="20.4" fill="#000" stroke="#000" stroke-width="0.3" stroke-linejoin="round">30</text>
<text transform="translate(584.38 302.14) scale(1.096 1)" font-size="20.4" fill="#000" stroke="#000" stroke-width="0.3" stroke-linejoin="round">20</text>
<text transform="translate(585.2 361.74) scale(1.044 1)" font-size="20.4" fill="#000" stroke="#000" stroke-width="0.3" stroke-linejoin="round">10</text>
<text transform="translate(593.03 421.79) scale(1.063 1)" font-size="20.4" fill="#000" stroke="#000" stroke-width="0.3" stroke-linejoin="round">0</text>
<text transform="translate(572.33 287.85) rotate(-90) scale(0.931 1)" font-size="26.9" fill="#000" stroke="#000" stroke-width="0.3" stroke-linejoin="round">Count</text>
<text transform="translate(717.76 109.59) scale(1.025 1)" font-size="30.61" fill="#8e8e8e">Zoom in</text>
<line x1="769.6" y1="337.2" x2="924.4" y2="337.2" stroke="#444" stroke-width="1.1"/>
<line x1="769.9" y1="333.4" x2="769.9" y2="340.8" stroke="#444" stroke-width="1.1"/>
<line x1="924" y1="333.4" x2="924" y2="340.8" stroke="#444" stroke-width="1.1"/>
<text transform="translate(825.82 328.34) scale(1.105 1)" font-size="15.65" fill="#111" stroke="#111" stroke-width="0.3" stroke-linejoin="round">Dead</text>
<line x1="638.5" y1="415.6" x2="638.5" y2="420.8" stroke="#000" stroke-width="1.5"/>
<line x1="642.2" y1="415.6" x2="642.2" y2="420.8" stroke="#000" stroke-width="1.5"/>
<line x1="645.7" y1="415.6" x2="645.7" y2="420.8" stroke="#000" stroke-width="1.5"/>
<line x1="648.7" y1="415.6" x2="648.7" y2="420.8" stroke="#000" stroke-width="1.5"/>
<line x1="651.9" y1="415.6" x2="651.9" y2="420.8" stroke="#000" stroke-width="1.5"/>
<line x1="663.4" y1="415.6" x2="663.4" y2="420.8" stroke="#000" stroke-width="1.5"/>
<line x1="669.6" y1="415.6" x2="669.6" y2="420.8" stroke="#000" stroke-width="1.5"/>
<line x1="676.5" y1="415.6" x2="676.5" y2="420.8" stroke="#000" stroke-width="1.5"/>
<line x1="702.7" y1="415.6" x2="702.7" y2="420.8" stroke="#000" stroke-width="1.5"/>
<line x1="708.9" y1="415.6" x2="708.9" y2="420.8" stroke="#000" stroke-width="1.5"/>
<line x1="714.5" y1="415.6" x2="714.5" y2="420.8" stroke="#000" stroke-width="1.5"/>
<line x1="725.7" y1="415.6" x2="725.7" y2="420.8" stroke="#000" stroke-width="1.5"/>
<line x1="730.1" y1="415.6" x2="730.1" y2="420.8" stroke="#000" stroke-width="1.5"/>
<line x1="733.8" y1="415.6" x2="733.8" y2="420.8" stroke="#000" stroke-width="1.5"/>
<line x1="736.9" y1="415.6" x2="736.9" y2="420.8" stroke="#000" stroke-width="1.5"/>
<line x1="740" y1="415.6" x2="740" y2="420.8" stroke="#000" stroke-width="1.5"/>
<line x1="769.2" y1="415.6" x2="769.2" y2="420.8" stroke="#000" stroke-width="1.5"/>
<line x1="784.2" y1="415.6" x2="784.2" y2="420.8" stroke="#000" stroke-width="1.5"/>
<line x1="794.1" y1="415.6" x2="794.1" y2="420.8" stroke="#000" stroke-width="1.5"/>
<line x1="808.5" y1="415.6" x2="808.5" y2="420.8" stroke="#000" stroke-width="1.5"/>
<line x1="812.8" y1="415.6" x2="812.8" y2="420.8" stroke="#000" stroke-width="1.5"/>
<line x1="816.6" y1="415.6" x2="816.6" y2="420.8" stroke="#000" stroke-width="1.5"/>
<line x1="819.7" y1="415.6" x2="819.7" y2="420.8" stroke="#000" stroke-width="1.5"/>
<line x1="822.4" y1="415.6" x2="822.4" y2="420.8" stroke="#000" stroke-width="1.5"/>
<line x1="846.5" y1="415.6" x2="846.5" y2="420.8" stroke="#000" stroke-width="1.5"/>
<line x1="858.3" y1="415.6" x2="858.3" y2="420.8" stroke="#000" stroke-width="1.5"/>
<line x1="867" y1="415.6" x2="867" y2="420.8" stroke="#000" stroke-width="1.5"/>
<line x1="879.5" y1="415.6" x2="879.5" y2="420.8" stroke="#000" stroke-width="1.5"/>
<line x1="884.5" y1="418.2" x2="884.5" y2="423.4" stroke="#000" stroke-width="1.5"/>
<line x1="888.2" y1="418.2" x2="888.2" y2="423.4" stroke="#000" stroke-width="1.5"/>
<line x1="891.3" y1="418.2" x2="891.3" y2="423.4" stroke="#000" stroke-width="1.5"/>
<line x1="893.2" y1="418.2" x2="893.2" y2="423.4" stroke="#000" stroke-width="1.5"/>
<line x1="915" y1="418.2" x2="915" y2="423.4" stroke="#000" stroke-width="1.5"/>
<line x1="658.2" y1="415.6" x2="658.2" y2="423.8" stroke="#000" stroke-width="2.3"/>
<line x1="720.7" y1="415.6" x2="720.7" y2="423.8" stroke="#000" stroke-width="2.3"/>
<line x1="802.2" y1="415.6" x2="802.2" y2="423.8" stroke="#000" stroke-width="2.3"/>
<line x1="873.3" y1="415.6" x2="873.3" y2="423.8" stroke="#000" stroke-width="2.3"/>
<line x1="634.5" y1="415.6" x2="634.5" y2="427.2" stroke="#000" stroke-width="3"/>
<line x1="744.3" y1="415.6" x2="744.3" y2="427.2" stroke="#000" stroke-width="3"/>
<line x1="825.3" y1="415.6" x2="825.3" y2="427.2" stroke="#000" stroke-width="3"/>
<line x1="895.4" y1="418.2" x2="895.4" y2="429.8" stroke="#000" stroke-width="3"/>
<rect x="681.9" y="415.6" width="15.5" height="6.2" fill="#000"/>
<rect x="681.9" y="415.6" width="3.3" height="11.6" fill="#000"/>
<rect x="686.6" y="415.6" width="4.4" height="11.6" fill="#000"/>
<rect x="694.2" y="415.6" width="3.2" height="11.6" fill="#000"/>
<rect x="685.2" y="415.6" width="1.4" height="8.5" fill="#000"/>
<rect x="691" y="415.6" width="3.2" height="8.8" fill="#000"/>
<text transform="translate(693.44 449.45) scale(1.058 1)" font-size="20.3" fill="#000" stroke="#000" stroke-width="0.3" stroke-linejoin="round">0</text>
<text transform="translate(731.55 449.45) scale(1.015 1)" font-size="20.3" fill="#000" stroke="#000" stroke-width="0.3" stroke-linejoin="round">10</text>
<text transform="translate(756.57 439.26) scale(1.053 1)" font-size="19.6" fill="#000" stroke="#000" stroke-width="0.3" stroke-linejoin="round">3</text>
<text transform="translate(811.85 449.45) scale(1.020 1)" font-size="20.3" fill="#000" stroke="#000" stroke-width="0.3" stroke-linejoin="round">10</text>
<text transform="translate(836.62 437.31) scale(0.990 1)" font-size="19.6" fill="#000" stroke="#000" stroke-width="0.3" stroke-linejoin="round">4</text>
<text transform="translate(886.7 451.35) scale(0.985 1)" font-size="20.3" fill="#000" stroke="#000" stroke-width="0.3" stroke-linejoin="round">10</text>
<text transform="translate(910.83 440.41) scale(0.988 1)" font-size="19.6" fill="#000" stroke="#000" stroke-width="0.3" stroke-linejoin="round">5</text>
<text transform="translate(638.33 475.85) scale(0.978 1)" font-size="26.42" fill="#000" stroke="#000" stroke-width="0.3" stroke-linejoin="round">BV421-A (SYTOX Blue)</text>
<line x1="1360.8" y1="82.2" x2="1360.8" y2="471.07" stroke="#000" stroke-width="3.6" stroke-linecap="round" stroke-dasharray="0.01 5.879"/>
<line x1="1607.4" y1="82.2" x2="1607.4" y2="471.07" stroke="#000" stroke-width="3.6" stroke-linecap="round" stroke-dasharray="0.01 5.879"/>
<line x1="1125.5" y1="80.6" x2="1125.5" y2="475.7" stroke="#161616" stroke-width="2"/>
<line x1="1109.5" y1="474.7" x2="1843.8" y2="474.7" stroke="#161616" stroke-width="2"/>
<line x1="1109.5" y1="81.6" x2="1125.5" y2="81.6" stroke="#161616" stroke-width="2"/>
<text transform="translate(1059.52 91.26)" font-size="25.4" fill="#1c1c1c">100</text>
<line x1="1109.5" y1="179.88" x2="1125.5" y2="179.88" stroke="#161616" stroke-width="2"/>
<text transform="translate(1076.72 189.54)" font-size="25.4" fill="#1c1c1c">95</text>
<line x1="1109.5" y1="278.15" x2="1125.5" y2="278.15" stroke="#161616" stroke-width="2"/>
<text transform="translate(1076.72 287.81)" font-size="25.4" fill="#1c1c1c">90</text>
<line x1="1109.5" y1="376.43" x2="1125.5" y2="376.43" stroke="#161616" stroke-width="2"/>
<text transform="translate(1076.72 386.09)" font-size="25.4" fill="#1c1c1c">85</text>
<text transform="translate(1076.72 484.36)" font-size="25.4" fill="#1c1c1c">80</text>
<text transform="translate(1046.05 364.28) rotate(-90)" font-size="29.3" fill="#1c1c1c">Live cells [%]</text>
<text transform="translate(1354.97 45.46) scale(0.981 1)" font-size="34.01" font-weight="bold" fill="#1c1c1c">TMR substrates</text>
<line x1="1169.9" y1="96.9" x2="1304.8" y2="96.9" stroke="#222" stroke-width="2"/>
<text transform="translate(1225.12 91.77) scale(1.004 1)" font-size="22.73" fill="#222">ns</text>
<line x1="1416.6" y1="96.9" x2="1551.6" y2="96.9" stroke="#222" stroke-width="2"/>
<text transform="translate(1471.62 91.77) scale(1.004 1)" font-size="22.73" fill="#222">ns</text>
<line x1="1659.2" y1="96.9" x2="1793.9" y2="96.9" stroke="#222" stroke-width="2"/>
<text transform="translate(1714.12 91.77) scale(1.004 1)" font-size="22.73" fill="#222">ns</text>
<line x1="1170" y1="474.7" x2="1170" y2="490.3" stroke="#161616" stroke-width="2"/>
<line x1="1170" y1="150.2" x2="1170" y2="182.6" stroke="#141414" stroke-width="1.9"/>
<line x1="1158.8" y1="150.2" x2="1181.2" y2="150.2" stroke="#141414" stroke-width="1.9"/>
<line x1="1158.8" y1="182.6" x2="1181.2" y2="182.6" stroke="#141414" stroke-width="1.9"/>
<line x1="1147.6" y1="166.2" x2="1192.4" y2="166.2" stroke="#6a6a6a" stroke-width="3.7"/>
<circle cx="1170" cy="152.7" r="4.0" fill="#a91f1f"/>
<circle cx="1170" cy="162.5" r="4.0" fill="#a91f1f"/>
<circle cx="1170" cy="183.9" r="4.0" fill="#a91f1f"/>
<text transform="translate(1180.6 512.6) rotate(-45) scale(1.040 1)" font-size="28.5" text-anchor="end" fill="#1c1c1c">TF-TMR</text>
<line x1="1237.4" y1="474.7" x2="1237.4" y2="490.3" stroke="#161616" stroke-width="2"/>
<line x1="1237.4" y1="144.2" x2="1237.4" y2="280.1" stroke="#141414" stroke-width="1.9"/>
<line x1="1226.2" y1="144.2" x2="1248.6" y2="144.2" stroke="#141414" stroke-width="1.9"/>
<line x1="1226.2" y1="280.1" x2="1248.6" y2="280.1" stroke="#141414" stroke-width="1.9"/>
<line x1="1215" y1="212" x2="1259.8" y2="212" stroke="#6a6a6a" stroke-width="3.7"/>
<circle cx="1237.4" cy="166.1" r="4.0" fill="#4aaec2"/>
<circle cx="1237.4" cy="180.1" r="4.0" fill="#4aaec2"/>
<circle cx="1237.4" cy="290.1" r="4.0" fill="#4aaec2"/>
<text transform="translate(1247.4 512.6) rotate(-45) scale(1.045 1)" font-size="28.5" text-anchor="end" fill="#1c1c1c">DMSO</text>
<line x1="1304.5" y1="474.7" x2="1304.5" y2="490.3" stroke="#161616" stroke-width="2"/>
<line x1="1304.5" y1="120.9" x2="1304.5" y2="223.8" stroke="#141414" stroke-width="1.9"/>
<line x1="1293.3" y1="120.9" x2="1315.7" y2="120.9" stroke="#141414" stroke-width="1.9"/>
<line x1="1293.3" y1="223.8" x2="1315.7" y2="223.8" stroke="#141414" stroke-width="1.9"/>
<line x1="1282.1" y1="172.4" x2="1326.9" y2="172.4" stroke="#6a6a6a" stroke-width="3.7"/>
<circle cx="1304.5" cy="119" r="4.0" fill="#8f8f8f"/>
<circle cx="1304.5" cy="176.4" r="4.0" fill="#8f8f8f"/>
<circle cx="1304.5" cy="221" r="4.0" fill="#8f8f8f"/>
<text transform="translate(1316 513.6) rotate(-45) scale(0.975 1)" font-size="28.5" text-anchor="end" fill="#1c1c1c">untreated</text>
<line x1="1416.4" y1="474.7" x2="1416.4" y2="490.3" stroke="#161616" stroke-width="2"/>
<line x1="1416.4" y1="151.4" x2="1416.4" y2="268.7" stroke="#141414" stroke-width="1.9"/>
<line x1="1405.2" y1="151.4" x2="1427.6" y2="151.4" stroke="#141414" stroke-width="1.9"/>
<line x1="1405.2" y1="268.7" x2="1427.6" y2="268.7" stroke="#141414" stroke-width="1.9"/>
<line x1="1394" y1="210.3" x2="1438.8" y2="210.3" stroke="#6a6a6a" stroke-width="3.7"/>
<circle cx="1416.4" cy="156.7" r="4.0" fill="#a91f1f"/>
<circle cx="1416.4" cy="201.6" r="4.0" fill="#a91f1f"/>
<circle cx="1416.4" cy="272.9" r="4.0" fill="#a91f1f"/>
<text transform="translate(1427 512.6) rotate(-45) scale(1.040 1)" font-size="28.5" text-anchor="end" fill="#1c1c1c">CF-TMR</text>
<line x1="1484" y1="474.7" x2="1484" y2="490.3" stroke="#161616" stroke-width="2"/>
<line x1="1484" y1="184.1" x2="1484" y2="191.6" stroke="#141414" stroke-width="1.9"/>
<line x1="1472.8" y1="184.1" x2="1495.2" y2="184.1" stroke="#141414" stroke-width="1.9"/>
<line x1="1472.8" y1="191.6" x2="1495.2" y2="191.6" stroke="#141414" stroke-width="1.9"/>
<line x1="1461.6" y1="187.6" x2="1506.4" y2="187.6" stroke="#6a6a6a" stroke-width="3.7"/>
<circle cx="1484" cy="184.6" r="4.0" fill="#4aaec2"/>
<circle cx="1484" cy="187" r="4.0" fill="#4aaec2"/>
<circle cx="1484" cy="190" r="4.0" fill="#4aaec2"/>
<text transform="translate(1493.2 512.7) rotate(-45) scale(1.040 1)" font-size="28.5" text-anchor="end" fill="#1c1c1c">DMSO</text>
<line x1="1551.1" y1="474.7" x2="1551.1" y2="490.3" stroke="#161616" stroke-width="2"/>
<line x1="1551.1" y1="147.2" x2="1551.1" y2="186.6" stroke="#141414" stroke-width="1.9"/>
<line x1="1539.9" y1="147.2" x2="1562.3" y2="147.2" stroke="#141414" stroke-width="1.9"/>
<line x1="1539.9" y1="186.6" x2="1562.3" y2="186.6" stroke="#141414" stroke-width="1.9"/>
<line x1="1528.7" y1="166.6" x2="1573.5" y2="166.6" stroke="#6a6a6a" stroke-width="3.7"/>
<circle cx="1551.1" cy="144.7" r="4.0" fill="#666666"/>
<circle cx="1551.1" cy="174.1" r="4.0" fill="#666666"/>
<circle cx="1551.1" cy="181.6" r="4.0" fill="#666666"/>
<text transform="translate(1562.3 513.9) rotate(-45) scale(0.980 1)" font-size="28.5" text-anchor="end" fill="#1c1c1c">untreated</text>
<line x1="1663.1" y1="474.7" x2="1663.1" y2="490.3" stroke="#161616" stroke-width="2"/>
<line x1="1663.1" y1="164.6" x2="1663.1" y2="251.7" stroke="#141414" stroke-width="1.9"/>
<line x1="1651.9" y1="164.6" x2="1674.3" y2="164.6" stroke="#141414" stroke-width="1.9"/>
<line x1="1651.9" y1="251.7" x2="1674.3" y2="251.7" stroke="#141414" stroke-width="1.9"/>
<line x1="1640.7" y1="208.3" x2="1685.5" y2="208.3" stroke="#6a6a6a" stroke-width="3.7"/>
<circle cx="1663.1" cy="160.2" r="4.0" fill="#a91f1f"/>
<circle cx="1663.1" cy="219.5" r="4.0" fill="#a91f1f"/>
<circle cx="1663.1" cy="245" r="4.0" fill="#a91f1f"/>
<text transform="translate(1673.7 512.6) rotate(-45) scale(1.040 1)" font-size="28.5" text-anchor="end" fill="#1c1c1c">CA-TMR</text>
<line x1="1730.2" y1="474.7" x2="1730.2" y2="490.3" stroke="#161616" stroke-width="2"/>
<line x1="1730.2" y1="231" x2="1730.2" y2="408" stroke="#3e3e3e" stroke-width="1.9"/>
<line x1="1719" y1="231" x2="1741.4" y2="231" stroke="#3e3e3e" stroke-width="1.9"/>
<line x1="1719" y1="408" x2="1741.4" y2="408" stroke="#3e3e3e" stroke-width="1.9"/>
<line x1="1707.8" y1="319.5" x2="1752.6" y2="319.5" stroke="#6a6a6a" stroke-width="3.7"/>
<circle cx="1730.2" cy="233.7" r="4.0" fill="#3d97ab"/>
<circle cx="1730.2" cy="316.2" r="4.0" fill="#3d97ab"/>
<circle cx="1730.2" cy="410" r="4.0" fill="#3d97ab"/>
<text transform="translate(1740.2 512.6) rotate(-45) scale(1.045 1)" font-size="28.5" text-anchor="end" fill="#1c1c1c">DMSO</text>
<line x1="1797.6" y1="474.7" x2="1797.6" y2="490.3" stroke="#161616" stroke-width="2"/>
<line x1="1797.6" y1="158.9" x2="1797.6" y2="327.9" stroke="#3e3e3e" stroke-width="1.9"/>
<line x1="1786.4" y1="158.9" x2="1808.8" y2="158.9" stroke="#3e3e3e" stroke-width="1.9"/>
<line x1="1786.4" y1="327.9" x2="1808.8" y2="327.9" stroke="#3e3e3e" stroke-width="1.9"/>
<line x1="1775.2" y1="243.2" x2="1820" y2="243.2" stroke="#6a6a6a" stroke-width="3.7"/>
<circle cx="1797.6" cy="148.9" r="4.0" fill="#666666"/>
<circle cx="1797.6" cy="272.7" r="4.0" fill="#666666"/>
<circle cx="1797.6" cy="310" r="4.0" fill="#666666"/>
<text transform="translate(1809.1 513.6) rotate(-45) scale(0.975 1)" font-size="28.5" text-anchor="end" fill="#1c1c1c">untreated</text>
<line x1="368.9" y1="716.3" x2="368.9" y2="1105.7" stroke="#000" stroke-width="3.6" stroke-linecap="round" stroke-dasharray="0.01 5.887"/>
<line x1="615.7" y1="716.3" x2="615.7" y2="1105.7" stroke="#000" stroke-width="3.6" stroke-linecap="round" stroke-dasharray="0.01 5.887"/>
<line x1="133.1" y1="715" x2="133.1" y2="1110.2" stroke="#222" stroke-width="2"/>
<line x1="117.6" y1="1109.2" x2="851.6" y2="1109.2" stroke="#222" stroke-width="2"/>
<line x1="117.6" y1="716" x2="133.1" y2="716" stroke="#222" stroke-width="2"/>
<text transform="translate(67.53 725.96)" font-size="25.4" fill="#1c1c1c">100</text>
<line x1="117.6" y1="814.3" x2="133.1" y2="814.3" stroke="#222" stroke-width="2"/>
<text transform="translate(84.22 824.26)" font-size="25.4" fill="#1c1c1c">95</text>
<line x1="117.6" y1="912.6" x2="133.1" y2="912.6" stroke="#222" stroke-width="2"/>
<text transform="translate(84.22 922.56)" font-size="25.4" fill="#1c1c1c">90</text>
<line x1="117.6" y1="1010.9" x2="133.1" y2="1010.9" stroke="#222" stroke-width="2"/>
<text transform="translate(84.22 1020.86)" font-size="25.4" fill="#1c1c1c">85</text>
<text transform="translate(84.22 1119.16)" font-size="25.4" fill="#1c1c1c">80</text>
<text transform="translate(46.65 998.73) rotate(-90)" font-size="29.3" fill="#1c1c1c">Live cells [%]</text>
<text transform="translate(365.85 676.86) scale(0.978 1)" font-size="34.42" font-weight="bold" fill="#1c1c1c">CPY substrates</text>
<line x1="178.1" y1="725.8" x2="312.6" y2="725.8" stroke="#222" stroke-width="2"/>
<text transform="translate(233.32 720.27) scale(1.004 1)" font-size="22.73" fill="#222">ns</text>
<line x1="424.8" y1="725.8" x2="559.4" y2="725.8" stroke="#222" stroke-width="2"/>
<text transform="translate(479.52 720.27) scale(1.004 1)" font-size="22.73" fill="#222">ns</text>
<line x1="671.5" y1="725.8" x2="806" y2="725.8" stroke="#222" stroke-width="2"/>
<text transform="translate(726.22 720.27) scale(1.004 1)" font-size="22.73" fill="#222">ns</text>
<line x1="177.9" y1="1109.2" x2="177.9" y2="1124.8" stroke="#222" stroke-width="2"/>
<line x1="177.9" y1="757.5" x2="177.9" y2="958.9" stroke="#141414" stroke-width="1.9"/>
<line x1="166.7" y1="757.5" x2="189.1" y2="757.5" stroke="#141414" stroke-width="1.9"/>
<line x1="166.7" y1="958.9" x2="189.1" y2="958.9" stroke="#141414" stroke-width="1.9"/>
<line x1="155.5" y1="858.2" x2="200.3" y2="858.2" stroke="#6a6a6a" stroke-width="3.7"/>
<circle cx="177.9" cy="763.7" r="4.0" fill="#a91f1f"/>
<circle cx="177.9" cy="848.3" r="4.0" fill="#a91f1f"/>
<circle cx="177.9" cy="963.9" r="4.0" fill="#a91f1f"/>
<text transform="translate(188.1 1146.2) rotate(-45) scale(1.040 1)" font-size="28.5" text-anchor="end" fill="#1c1c1c">TF-CPY</text>
<line x1="245.5" y1="1109.2" x2="245.5" y2="1124.8" stroke="#222" stroke-width="2"/>
<line x1="245.5" y1="865.2" x2="245.5" y2="985.1" stroke="#141414" stroke-width="1.9"/>
<line x1="234.3" y1="865.2" x2="256.7" y2="865.2" stroke="#141414" stroke-width="1.9"/>
<line x1="234.3" y1="985.1" x2="256.7" y2="985.1" stroke="#141414" stroke-width="1.9"/>
<line x1="223.1" y1="924.8" x2="267.9" y2="924.8" stroke="#6a6a6a" stroke-width="3.7"/>
<circle cx="245.5" cy="879.4" r="4.0" fill="#4aaec2"/>
<circle cx="245.5" cy="902.9" r="4.0" fill="#4aaec2"/>
<circle cx="245.5" cy="993.3" r="4.0" fill="#4aaec2"/>
<text transform="translate(254.4 1148.8) rotate(-45) scale(1.030 1)" font-size="28.5" text-anchor="end" fill="#1c1c1c">DMSO</text>
<line x1="312.6" y1="1109.2" x2="312.6" y2="1124.8" stroke="#222" stroke-width="2"/>
<line x1="312.6" y1="876.2" x2="312.6" y2="936" stroke="#141414" stroke-width="1.9"/>
<line x1="301.4" y1="876.2" x2="323.8" y2="876.2" stroke="#141414" stroke-width="1.9"/>
<line x1="301.4" y1="936" x2="323.8" y2="936" stroke="#141414" stroke-width="1.9"/>
<line x1="290.2" y1="906.4" x2="335" y2="906.4" stroke="#6a6a6a" stroke-width="3.7"/>
<circle cx="312.6" cy="883.2" r="4.0" fill="#8f8f8f"/>
<circle cx="312.6" cy="895.2" r="4.0" fill="#8f8f8f"/>
<circle cx="312.6" cy="940.7" r="4.0" fill="#8f8f8f"/>
<text transform="translate(316.3 1149.6) rotate(-45) scale(0.985 1)" font-size="28.5" text-anchor="end" fill="#1c1c1c">untreated</text>
<line x1="424.8" y1="1109.2" x2="424.8" y2="1124.8" stroke="#222" stroke-width="2"/>
<line x1="424.8" y1="797.9" x2="424.8" y2="873" stroke="#141414" stroke-width="1.9"/>
<line x1="413.6" y1="797.9" x2="436" y2="797.9" stroke="#141414" stroke-width="1.9"/>
<line x1="413.6" y1="873" x2="436" y2="873" stroke="#141414" stroke-width="1.9"/>
<line x1="402.4" y1="835" x2="447.2" y2="835" stroke="#6a6a6a" stroke-width="3.7"/>
<circle cx="424.8" cy="796.6" r="4.0" fill="#a91f1f"/>
<circle cx="424.8" cy="838.8" r="4.0" fill="#a91f1f"/>
<circle cx="424.8" cy="871.7" r="4.0" fill="#a91f1f"/>
<text transform="translate(435 1146.5) rotate(-45) scale(1.040 1)" font-size="28.5" text-anchor="end" fill="#1c1c1c">CF-CPY</text>
<line x1="491.9" y1="1109.2" x2="491.9" y2="1124.8" stroke="#222" stroke-width="2"/>
<line x1="491.9" y1="867.7" x2="491.9" y2="918.1" stroke="#141414" stroke-width="1.9"/>
<line x1="480.7" y1="867.7" x2="503.1" y2="867.7" stroke="#141414" stroke-width="1.9"/>
<line x1="480.7" y1="918.1" x2="503.1" y2="918.1" stroke="#141414" stroke-width="1.9"/>
<line x1="469.5" y1="892.7" x2="514.3" y2="892.7" stroke="#6a6a6a" stroke-width="3.7"/>
<circle cx="491.9" cy="863.2" r="4.0" fill="#4aaec2"/>
<circle cx="491.9" cy="908.9" r="4.0" fill="#4aaec2"/>
<text transform="translate(500.8 1148.5) rotate(-45) scale(1.030 1)" font-size="28.5" text-anchor="end" fill="#1c1c1c">DMSO</text>
<line x1="559.2" y1="1109.2" x2="559.2" y2="1124.8" stroke="#222" stroke-width="2"/>
<line x1="559.2" y1="813.8" x2="559.2" y2="936.5" stroke="#141414" stroke-width="1.9"/>
<line x1="548" y1="813.8" x2="570.4" y2="813.8" stroke="#141414" stroke-width="1.9"/>
<line x1="548" y1="936.5" x2="570.4" y2="936.5" stroke="#141414" stroke-width="1.9"/>
<line x1="536.8" y1="875.7" x2="581.6" y2="875.7" stroke="#6a6a6a" stroke-width="3.7"/>
<circle cx="559.2" cy="835.8" r="4.0" fill="#666666"/>
<circle cx="559.2" cy="844" r="4.0" fill="#666666"/>
<circle cx="559.2" cy="946.5" r="4.0" fill="#666666"/>
<text transform="translate(563.1 1149.8) rotate(-45) scale(0.985 1)" font-size="28.5" text-anchor="end" fill="#1c1c1c">untreated</text>
<line x1="671.5" y1="1109.2" x2="671.5" y2="1124.8" stroke="#222" stroke-width="2"/>
<line x1="671.5" y1="796.6" x2="671.5" y2="969.9" stroke="#141414" stroke-width="1.9"/>
<line x1="660.3" y1="796.6" x2="682.7" y2="796.6" stroke="#141414" stroke-width="1.9"/>
<line x1="660.3" y1="969.9" x2="682.7" y2="969.9" stroke="#141414" stroke-width="1.9"/>
<line x1="649.1" y1="883.2" x2="693.9" y2="883.2" stroke="#6a6a6a" stroke-width="3.7"/>
<circle cx="671.5" cy="784.9" r="4.0" fill="#a91f1f"/>
<circle cx="671.5" cy="916.9" r="4.0" fill="#a91f1f"/>
<circle cx="671.5" cy="948.2" r="4.0" fill="#a91f1f"/>
<text transform="translate(680.1 1149.3) rotate(-45) scale(1.040 1)" font-size="28.5" text-anchor="end" fill="#1c1c1c">CA-CPY</text>
<line x1="738.6" y1="1109.2" x2="738.6" y2="1124.8" stroke="#222" stroke-width="2"/>
<line x1="738.6" y1="865.5" x2="738.6" y2="1042.7" stroke="#141414" stroke-width="1.9"/>
<line x1="727.4" y1="865.5" x2="749.8" y2="865.5" stroke="#141414" stroke-width="1.9"/>
<line x1="727.4" y1="1042.7" x2="749.8" y2="1042.7" stroke="#141414" stroke-width="1.9"/>
<line x1="716.2" y1="954.2" x2="761" y2="954.2" stroke="#6a6a6a" stroke-width="3.7"/>
<circle cx="738.6" cy="868" r="4.0" fill="#3d97ab"/>
<circle cx="738.6" cy="950.2" r="4.0" fill="#3d97ab"/>
<circle cx="738.6" cy="1045" r="4.0" fill="#3d97ab"/>
<text transform="translate(747.5 1148.5) rotate(-45) scale(1.030 1)" font-size="28.5" text-anchor="end" fill="#1c1c1c">DMSO</text>
<line x1="806" y1="1109.2" x2="806" y2="1124.8" stroke="#222" stroke-width="2"/>
<line x1="806" y1="793.4" x2="806" y2="962.4" stroke="#3e3e3e" stroke-width="1.9"/>
<line x1="794.8" y1="793.4" x2="817.2" y2="793.4" stroke="#3e3e3e" stroke-width="1.9"/>
<line x1="794.8" y1="962.4" x2="817.2" y2="962.4" stroke="#3e3e3e" stroke-width="1.9"/>
<line x1="783.6" y1="877.7" x2="828.4" y2="877.7" stroke="#6a6a6a" stroke-width="3.7"/>
<circle cx="806" cy="783.4" r="4.0" fill="#666666"/>
<circle cx="806" cy="906.9" r="4.0" fill="#666666"/>
<circle cx="806" cy="944" r="4.0" fill="#666666"/>
<text transform="translate(809.7 1149.6) rotate(-45) scale(0.985 1)" font-size="28.5" text-anchor="end" fill="#1c1c1c">untreated</text>
<line x1="1359" y1="713.5" x2="1359" y2="1105.41" stroke="#000" stroke-width="3.6" stroke-linecap="round" stroke-dasharray="0.01 5.925"/>
<line x1="1607.3" y1="713.5" x2="1607.3" y2="1105.41" stroke="#000" stroke-width="3.6" stroke-linecap="round" stroke-dasharray="0.01 5.925"/>
<line x1="1122.2" y1="712.3" x2="1122.2" y2="1109.9" stroke="#2e2e2e" stroke-width="2"/>
<line x1="1106.3" y1="1108.9" x2="1846" y2="1108.9" stroke="#2e2e2e" stroke-width="2"/>
<line x1="1106.3" y1="713.3" x2="1122.2" y2="713.3" stroke="#2e2e2e" stroke-width="2"/>
<text transform="translate(1062.62 723.46)" font-size="25.4" fill="#1c1c1c">100</text>
<line x1="1106.3" y1="812.2" x2="1122.2" y2="812.2" stroke="#2e2e2e" stroke-width="2"/>
<text transform="translate(1076.72 822.36)" font-size="25.4" fill="#1c1c1c">95</text>
<line x1="1106.3" y1="911.1" x2="1122.2" y2="911.1" stroke="#2e2e2e" stroke-width="2"/>
<text transform="translate(1076.72 921.26)" font-size="25.4" fill="#1c1c1c">90</text>
<line x1="1106.3" y1="1010" x2="1122.2" y2="1010" stroke="#2e2e2e" stroke-width="2"/>
<text transform="translate(1076.72 1020.16)" font-size="25.4" fill="#1c1c1c">85</text>
<text transform="translate(1076.72 1119.06)" font-size="25.4" fill="#1c1c1c">80</text>
<text transform="translate(1046.05 997.23) rotate(-90)" font-size="29.3" fill="#1c1c1c">Live cells [%]</text>
<text transform="translate(1354.4 676.86) scale(0.968 1)" font-size="34.42" font-weight="bold" fill="#1c1c1c">SiR substrates</text>
<line x1="1164.6" y1="715" x2="1299.3" y2="715" stroke="#222" stroke-width="2"/>
<text transform="translate(1219.52 709.27) scale(1.004 1)" font-size="22.73" fill="#222">ns</text>
<line x1="1411" y1="715" x2="1546" y2="715" stroke="#222" stroke-width="2"/>
<text transform="translate(1466.12 709.27) scale(1.004 1)" font-size="22.73" fill="#222">ns</text>
<line x1="1653.7" y1="715" x2="1788.1" y2="715" stroke="#222" stroke-width="2"/>
<text transform="translate(1708.42 709.27) scale(1.004 1)" font-size="22.73" fill="#222">ns</text>
<line x1="1166.8" y1="1108.9" x2="1166.8" y2="1124.5" stroke="#2e2e2e" stroke-width="2"/>
<line x1="1166.8" y1="761.4" x2="1166.8" y2="802.9" stroke="#141414" stroke-width="1.9"/>
<line x1="1155.6" y1="761.4" x2="1178" y2="761.4" stroke="#141414" stroke-width="1.9"/>
<line x1="1155.6" y1="802.9" x2="1178" y2="802.9" stroke="#141414" stroke-width="1.9"/>
<line x1="1144.4" y1="782.1" x2="1189.2" y2="782.1" stroke="#6a6a6a" stroke-width="3.7"/>
<circle cx="1166.8" cy="758.4" r="4.0" fill="#a91f1f"/>
<circle cx="1166.8" cy="788.9" r="4.0" fill="#a91f1f"/>
<circle cx="1166.8" cy="798.6" r="4.0" fill="#a91f1f"/>
<text transform="translate(1177.7 1144.8) rotate(-45) scale(1.040 1)" font-size="28.5" text-anchor="end" fill="#1c1c1c">TF-SiR</text>
<line x1="1234.7" y1="1108.9" x2="1234.7" y2="1124.5" stroke="#2e2e2e" stroke-width="2"/>
<line x1="1234.7" y1="804.4" x2="1234.7" y2="869.2" stroke="#141414" stroke-width="1.9"/>
<line x1="1223.5" y1="804.4" x2="1245.9" y2="804.4" stroke="#141414" stroke-width="1.9"/>
<line x1="1223.5" y1="869.2" x2="1245.9" y2="869.2" stroke="#141414" stroke-width="1.9"/>
<line x1="1212.3" y1="836.5" x2="1257.1" y2="836.5" stroke="#6a6a6a" stroke-width="3.7"/>
<circle cx="1234.7" cy="812.6" r="4.0" fill="#4aaec2"/>
<circle cx="1234.7" cy="824.6" r="4.0" fill="#4aaec2"/>
<circle cx="1234.7" cy="873.9" r="4.0" fill="#4aaec2"/>
<text transform="translate(1243.3 1148) rotate(-45) scale(1.035 1)" font-size="28.5" text-anchor="end" fill="#1c1c1c">DMSO</text>
<line x1="1302.3" y1="1108.9" x2="1302.3" y2="1124.5" stroke="#2e2e2e" stroke-width="2"/>
<line x1="1302.3" y1="773.9" x2="1302.3" y2="893.2" stroke="#3e3e3e" stroke-width="1.9"/>
<line x1="1291.1" y1="773.9" x2="1313.5" y2="773.9" stroke="#3e3e3e" stroke-width="1.9"/>
<line x1="1291.1" y1="893.2" x2="1313.5" y2="893.2" stroke="#3e3e3e" stroke-width="1.9"/>
<line x1="1279.9" y1="833.3" x2="1324.7" y2="833.3" stroke="#6a6a6a" stroke-width="3.7"/>
<circle cx="1302.3" cy="764.7" r="4.0" fill="#8f8f8f"/>
<circle cx="1302.3" cy="866.5" r="4.0" fill="#8f8f8f"/>
<circle cx="1302.3" cy="869.5" r="4.0" fill="#8f8f8f"/>
<text transform="translate(1316 1149.3) rotate(-45) scale(0.990 1)" font-size="28.5" text-anchor="end" fill="#1c1c1c">untreated</text>
<line x1="1414.9" y1="1108.9" x2="1414.9" y2="1124.5" stroke="#2e2e2e" stroke-width="2"/>
<line x1="1414.9" y1="760.4" x2="1414.9" y2="830" stroke="#3e3e3e" stroke-width="1.9"/>
<line x1="1403.7" y1="760.4" x2="1426.1" y2="760.4" stroke="#3e3e3e" stroke-width="1.9"/>
<line x1="1403.7" y1="830" x2="1426.1" y2="830" stroke="#3e3e3e" stroke-width="1.9"/>
<line x1="1392.5" y1="794.9" x2="1437.3" y2="794.9" stroke="#6a6a6a" stroke-width="3.7"/>
<circle cx="1414.9" cy="758.7" r="4.0" fill="#a91f1f"/>
<circle cx="1414.9" cy="798.6" r="4.0" fill="#a91f1f"/>
<circle cx="1414.9" cy="827.8" r="4.0" fill="#a91f1f"/>
<text transform="translate(1425.3 1147.5) rotate(-45) scale(1.040 1)" font-size="28.5" text-anchor="end" fill="#1c1c1c">CF-SiR</text>
<line x1="1483" y1="1108.9" x2="1483" y2="1124.5" stroke="#2e2e2e" stroke-width="2"/>
<line x1="1483" y1="809.3" x2="1483" y2="850.7" stroke="#141414" stroke-width="1.9"/>
<line x1="1471.8" y1="809.3" x2="1494.2" y2="809.3" stroke="#141414" stroke-width="1.9"/>
<line x1="1471.8" y1="850.7" x2="1494.2" y2="850.7" stroke="#141414" stroke-width="1.9"/>
<line x1="1460.6" y1="829.8" x2="1505.4" y2="829.8" stroke="#6a6a6a" stroke-width="3.7"/>
<circle cx="1483" cy="817" r="4.0" fill="#4aaec2"/>
<circle cx="1483" cy="820.3" r="4.0" fill="#4aaec2"/>
<circle cx="1483" cy="854" r="4.0" fill="#4aaec2"/>
<text transform="translate(1491.6 1148) rotate(-45) scale(1.035 1)" font-size="28.5" text-anchor="end" fill="#1c1c1c">DMSO</text>
<line x1="1550.6" y1="1108.9" x2="1550.6" y2="1124.5" stroke="#2e2e2e" stroke-width="2"/>
<line x1="1550.6" y1="809.3" x2="1550.6" y2="884.9" stroke="#141414" stroke-width="1.9"/>
<line x1="1539.4" y1="809.3" x2="1561.8" y2="809.3" stroke="#141414" stroke-width="1.9"/>
<line x1="1539.4" y1="884.9" x2="1561.8" y2="884.9" stroke="#141414" stroke-width="1.9"/>
<line x1="1528.2" y1="847.3" x2="1573" y2="847.3" stroke="#6a6a6a" stroke-width="3.7"/>
<circle cx="1550.6" cy="807.8" r="4.0" fill="#666666"/>
<circle cx="1550.6" cy="850.7" r="4.0" fill="#666666"/>
<circle cx="1550.6" cy="883.2" r="4.0" fill="#666666"/>
<text transform="translate(1563.1 1149.8) rotate(-45)" font-size="28.5" text-anchor="end" fill="#1c1c1c">untreated</text>
<line x1="1663.1" y1="1108.9" x2="1663.1" y2="1124.5" stroke="#2e2e2e" stroke-width="2"/>
<line x1="1663.1" y1="803.1" x2="1663.1" y2="869" stroke="#3e3e3e" stroke-width="1.9"/>
<line x1="1651.9" y1="803.1" x2="1674.3" y2="803.1" stroke="#3e3e3e" stroke-width="1.9"/>
<line x1="1651.9" y1="869" x2="1674.3" y2="869" stroke="#3e3e3e" stroke-width="1.9"/>
<line x1="1640.7" y1="836" x2="1685.5" y2="836" stroke="#6a6a6a" stroke-width="3.7"/>
<circle cx="1663.1" cy="798.4" r="4.0" fill="#a91f1f"/>
<circle cx="1663.1" cy="850.2" r="4.0" fill="#a91f1f"/>
<circle cx="1663.1" cy="860.2" r="4.0" fill="#a91f1f"/>
<text transform="translate(1673.4 1148.2) rotate(-45) scale(1.040 1)" font-size="28.5" text-anchor="end" fill="#1c1c1c">CA-SiR</text>
<line x1="1730.7" y1="1108.9" x2="1730.7" y2="1124.5" stroke="#2e2e2e" stroke-width="2"/>
<line x1="1730.7" y1="863.5" x2="1730.7" y2="1041.7" stroke="#3e3e3e" stroke-width="1.9"/>
<line x1="1719.5" y1="863.5" x2="1741.9" y2="863.5" stroke="#3e3e3e" stroke-width="1.9"/>
<line x1="1719.5" y1="1041.7" x2="1741.9" y2="1041.7" stroke="#3e3e3e" stroke-width="1.9"/>
<line x1="1708.3" y1="952.9" x2="1753.1" y2="952.9" stroke="#6a6a6a" stroke-width="3.7"/>
<circle cx="1730.7" cy="866.2" r="4.0" fill="#3d97ab"/>
<circle cx="1730.7" cy="948.9" r="4.0" fill="#3d97ab"/>
<circle cx="1730.7" cy="1044.2" r="4.0" fill="#3d97ab"/>
<text transform="translate(1739.3 1148) rotate(-45) scale(1.035 1)" font-size="28.5" text-anchor="end" fill="#1c1c1c">DMSO</text>
<line x1="1798.8" y1="1108.9" x2="1798.8" y2="1124.5" stroke="#2e2e2e" stroke-width="2"/>
<line x1="1798.8" y1="791.4" x2="1798.8" y2="961.2" stroke="#3e3e3e" stroke-width="1.9"/>
<line x1="1787.6" y1="791.4" x2="1810" y2="791.4" stroke="#3e3e3e" stroke-width="1.9"/>
<line x1="1787.6" y1="961.2" x2="1810" y2="961.2" stroke="#3e3e3e" stroke-width="1.9"/>
<line x1="1776.4" y1="876.2" x2="1821.2" y2="876.2" stroke="#6a6a6a" stroke-width="3.7"/>
<circle cx="1798.8" cy="780.9" r="4.0" fill="#666666"/>
<circle cx="1798.8" cy="905.1" r="4.0" fill="#666666"/>
<circle cx="1798.8" cy="942.7" r="4.0" fill="#666666"/>
<text transform="translate(1807.5 1151.8) rotate(-45) scale(0.990 1)" font-size="28.5" text-anchor="end" fill="#1c1c1c">untreated</text>
</svg>
</body></html>
